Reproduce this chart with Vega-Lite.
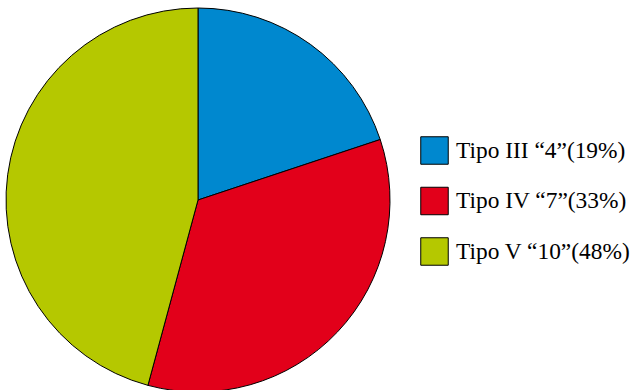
{
  "$schema": "https://vega.github.io/schema/vega-lite/v6.json",
  "width": 396,
  "height": 400,
  "padding": 0,
  "autosize": {"type": "pad"},
  "background": "white",
  "config": {"view": {"stroke": null}, "font": "'Liberation Serif', serif"},
  "data": {"values": [
    {"tipo": "Tipo III \u201c4\u201d(19%)", "share": 19.9, "ord": 1},
    {"tipo": "Tipo IV \u201c7\u201d(33%)", "share": 34.3, "ord": 2},
    {"tipo": "Tipo V \u201c10\u201d(48%)", "share": 45.8, "ord": 3}
  ]},
  "mark": {"type": "arc", "radius": 192, "stroke": "black", "strokeWidth": 1},
  "encoding": {
    "theta": {"field": "share", "type": "quantitative", "stack": true},
    "order": {"field": "ord", "type": "quantitative"},
    "color": {
      "field": "tipo",
      "type": "nominal",
      "sort": null,
      "scale": {
        "domain": ["Tipo III \u201c4\u201d(19%)", "Tipo IV \u201c7\u201d(33%)", "Tipo V \u201c10\u201d(48%)"],
        "range": ["#0088CF", "#E2001A", "#B5C800"]
      },
      "legend": {
        "title": null,
        "orient": "none",
        "legendX": 420,
        "legendY": 136,
        "symbolType": "square",
        "symbolSize": 756,
        "symbolStrokeColor": "black",
        "symbolStrokeWidth": 1,
        "symbolOpacity": 1,
        "labelFont": "'Liberation Serif', serif",
        "labelFontSize": 23.4,
        "labelColor": "black",
        "labelOffset": 7,
        "rowPadding": 17.5,
        "labelLimit": 300
      }
    }
  }
}
